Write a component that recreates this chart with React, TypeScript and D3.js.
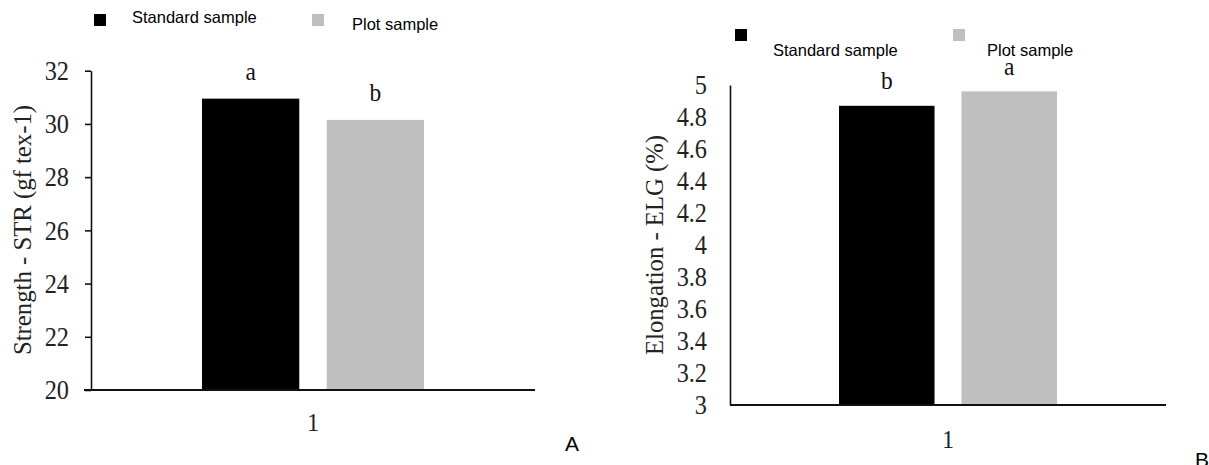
import React, { useEffect, useRef } from "react";
import * as d3 from "d3";

// data
const categories = ["1"];
const seriesNames = ["Standard sample", "Plot sample"];
const seriesColors = ["#000000", "#bfbfbf"];

const strengthValues = [30.95, 30.15];
const strengthLetters = ["a", "b"];
const strengthTicks = [20, 22, 24, 26, 28, 30, 32];

const elongationValues = [4.87, 4.96];
const elongationLetters = ["b", "a"];
const elongationTicks = [3, 3.2, 3.4, 3.6, 3.8, 4, 4.2, 4.4, 4.6, 4.8, 5];

const WIDTH = 1209;
const HEIGHT = 465;
const SERIF = "'Liberation Serif', 'Times New Roman', serif";
const SANS = "'Liberation Sans', Arial, sans-serif";
const SX = 0.9; // the serif text in the figure is a bit narrow

const panels = [
  {
    name: "A",
    title: "Strength - STR (gf tex-1)",
    values: strengthValues,
    letters: strengthLetters,
    ticks: strengthTicks,
    domain: [20, 32],
    left: 91, right: 535, top: 70.7, bottom: 390,
    tickSize: 6, tickPad: 16, baseStart: 84, labelPad: 23, letterGap: 19,
    titleX: 31, titleY: 230, titleLen: 250,
    legend: [
      { sx: 94, sy: 14, tx: 132, ty: 23 },
      { sx: 312, sy: 14, tx: 352, ty: 30 },
    ],
    corner: { x: 565, y: 451 },
  },
  {
    name: "B",
    title: "Elongation - ELG (%)",
    values: elongationValues,
    letters: elongationLetters,
    ticks: elongationTicks,
    domain: [3, 5],
    left: 730, right: 1166, top: 85, bottom: 405,
    tickSize: 0, tickPad: 23, baseStart: 730, labelPad: 25, letterGap: 16.5,
    titleX: 663, titleY: 245, titleLen: 220,
    legend: [
      { sx: 735, sy: 29, tx: 773, ty: 56 },
      { sx: 953, sy: 29, tx: 987, ty: 56 },
    ],
    corner: { x: 1195, y: 467 },
  },
];

export default function App() {
  const ref = useRef<SVGSVGElement | null>(null);

  useEffect(() => {
    const svg = d3.select(ref.current);
    svg.selectAll("*").remove();
    svg.append("rect").attr("width", WIDTH).attr("height", HEIGHT).attr("fill", "#fff");

    panels.forEach((p) => {
      const g = svg.append("g");

      const y = d3.scaleLinear().domain(p.domain).range([p.bottom, p.top]);
      const x0 = d3.scaleBand().domain(categories).range([p.left, p.right]).paddingInner(0.5).paddingOuter(0.25);
      const x1 = d3.scaleBand().domain(seriesNames).range([0, x0.bandwidth()]).paddingInner(0.22);

      // bars + significance letters
      categories.forEach((c) => {
        seriesNames.forEach((s, i) => {
          const bx = x0(c)! + x1(s)!;
          g.append("rect")
            .attr("x", bx)
            .attr("y", y(p.values[i]))
            .attr("width", x1.bandwidth())
            .attr("height", y(p.domain[0]) - y(p.values[i]))
            .attr("fill", seriesColors[i]);
          g.append("text")
            .attr("transform", "translate(" + (bx + x1.bandwidth() / 2) + "," + (y(p.values[i]) - p.letterGap) + ") scale(" + SX + ",1)")
            .attr("text-anchor", "middle")
            .attr("font-family", SERIF)
            .attr("font-size", 26)
            .attr("fill", "#111")
            .text(p.letters[i]);
        });
      });

      // y axis
      const yAxis = g.append("g")
        .attr("transform", "translate(" + p.left + ",0)")
        .call(d3.axisLeft(y).tickValues(p.ticks).tickSize(p.tickSize).tickSizeOuter(0).tickPadding(p.tickPad).tickFormat((d) => String(d)));
      yAxis.attr("font-family", SERIF);
      yAxis.select(".domain").attr("stroke", "#111").attr("stroke-width", 1.6);
      yAxis.selectAll(".tick line").attr("stroke", "#111").attr("stroke-width", 1.6);
      yAxis.selectAll(".tick text")
        .attr("x", -(p.tickSize + p.tickPad) / SX)
        .attr("transform", "scale(" + SX + ",1)")
        .attr("font-family", SERIF)
        .attr("font-size", 27)
        .attr("fill", "#222");

      // x axis
      const xAxis = g.append("g")
        .attr("transform", "translate(0," + p.bottom + ")")
        .call(d3.axisBottom(x0).tickSize(0).tickSizeOuter(0).tickPadding(p.labelPad));
      xAxis.attr("font-family", SERIF);
      xAxis.select(".domain").remove();
      xAxis.selectAll(".tick text")
        .attr("transform", "scale(" + SX + ",1)")
        .attr("font-family", SERIF)
        .attr("font-size", 26)
        .attr("fill", "#222");
      g.append("line")
        .attr("x1", p.baseStart).attr("x2", p.right)
        .attr("y1", p.bottom).attr("y2", p.bottom)
        .attr("stroke", "#111").attr("stroke-width", 2);

      // y title
      g.append("text")
        .attr("transform", "translate(" + p.titleX + "," + p.titleY + ") rotate(-90)")
        .attr("text-anchor", "middle")
        .attr("font-family", SERIF)
        .attr("font-size", 24.5)
        .attr("textLength", p.titleLen)
        .attr("lengthAdjust", "spacingAndGlyphs")
        .attr("fill", "#222")
        .text(p.title);

      // legend
      seriesNames.forEach((s, i) => {
        const l = p.legend[i];
        g.append("rect").attr("x", l.sx).attr("y", l.sy).attr("width", 12).attr("height", 12).attr("fill", seriesColors[i]);
        g.append("text")
          .attr("x", l.tx).attr("y", l.ty)
          .attr("font-family", SANS)
          .attr("font-size", 16.5)
          .attr("fill", "#000")
          .text(s);
      });

      // panel letter
      g.append("text")
        .attr("x", p.corner.x).attr("y", p.corner.y)
        .attr("font-family", SANS)
        .attr("font-size", 21)
        .attr("fill", "#000")
        .text(p.name);
    });
  }, []);

  return (
    <svg
      ref={ref}
      width={WIDTH}
      height={HEIGHT}
      style={{ position: "absolute", left: 0, top: 0, display: "block" }}
    />
  );
}
